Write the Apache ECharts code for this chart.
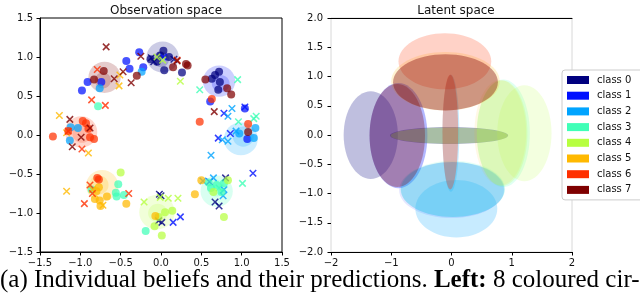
<!DOCTYPE html>
<html><head><meta charset="utf-8">
<script src="https://cdn.jsdelivr.net/npm/echarts@6/dist/echarts.min.js"></script>
<style>html,body{margin:0;padding:0;background:#fff}#c{width:640px;height:299px}</style>
</head><body><div id="c"></div><script>
const classNames = ['class 0','class 1','class 2','class 3','class 4','class 5','class 6','class 7'];
const classColors = ['#00007f','#0010ff','#00a4ff','#40ffb7','#b7ff40','#ffb900','#ff3000','#7f0000'];

// tick values and labels
const obsTickValues = [-1.5,-1.0,-0.5,0.0,0.5,1.0,1.5];
const obsTickLabels = ['\u22121.5','\u22121.0','\u22120.5','0.0','0.5','1.0','1.5'];
const latYTickValues = [-2.0,-1.5,-1.0,-0.5,0.0,0.5,1.0,1.5,2.0];
const latYTickLabels = ['\u22122.0','\u22121.5','\u22121.0','\u22120.5','0.0','0.5','1.0','1.5','2.0'];
const latXTickValues = [-2,-1,0,1,2];
const latXTickLabels = ['\u22122','\u22121','0','1','2'];

// observation space: belief circles [cx, cy, r]
const beliefOuter = [[0.02,1.0,0.2],[0.72,0.69,0.2],[0.99,-0.05,0.21],[0.69,-0.72,0.2],[-0.05,-0.99,0.22],[-0.73,-0.65,0.2],[-0.99,0.04,0.2],[-0.7,0.74,0.2]];
const beliefInner = [[0.0,0.97,0.1],[0.74,0.66,0.11],[1.02,-0.02,0.13],[0.68,-0.68,0.11],[-0.04,-1.0,0.12],[-0.77,-0.64,0.12],[-0.98,0.02,0.12],[-0.72,0.7,0.1]];

// observation space points per class
const obsDots0 = [[0.03,1.08],[-0.01,1.02],[0.04,0.83],[-0.13,0.97],[0.26,0.80],[-0.05,0.94],[0.10,1.0],[0.72,0.81],[0.63,0.72],[0.73,0.68],[0.71,0.58],[0.67,0.77]];
const obsCross0 = [[-0.09,0.94],[0.16,0.97],[-0.02,-0.76],[0.0,-0.78],[0.01,-1.12],[-0.03,-1.1],[0.8,-0.55],[0.67,-0.86],[0.72,-0.91],[-0.12,0.99]];
const obsDots1 = [[-0.27,1.06],[-0.43,0.95],[-0.39,0.85],[-0.22,0.87],[-0.91,0.68],[-0.98,0.57],[-0.74,0.68],[0.61,0.43],[1.04,0.34],[1.07,-0.05]];
const obsCross1 = [[0.78,0.28],[1.04,0.36],[0.71,-0.04],[0.86,0.02],[0.15,-1.12],[0.24,-1.05],[1.14,-0.49],[0.6,-0.6],[0.03,1.0]];
const obsDots2 = [[-0.24,0.81],[-0.76,0.6],[1.17,0.09],[1.15,-0.04],[0.97,0.02],[-1.12,0.1],[-1.03,0.09],[-1.13,-0.07]];
const obsCross2 = [[0.83,0.24],[0.88,0.34],[0.83,-0.08],[0.93,0.05],[0.62,-0.26],[0.52,-0.59],[0.77,-0.78],[0.65,-0.55],[0.78,-0.7],[0.76,-0.06]];
const obsDots3 = [[-0.78,0.37],[-0.53,-0.63],[-0.56,-0.74],[-0.55,-0.79],[-0.46,-0.77],[-0.19,-1.23],[0.59,-0.61],[0.69,-0.64],[0.75,-0.73],[0.62,-0.68],[0.78,-0.62],[-0.86,-0.7]];
const obsCross3 = [[0.95,0.71],[0.48,0.58],[1.15,0.21],[0.96,0.17],[1.01,-0.62],[1.18,0.24],[0.72,-0.68]];
const obsDots4 = [[-0.5,-0.48],[-0.08,-1.17],[0.01,-1.29],[0.05,-0.99],[0.14,-0.97],[-0.03,-1.05],[0.65,-0.73],[0.83,-0.58],[0.78,-1.05]];
const obsCross4 = [[-0.05,1.0],[0.02,0.96],[0.24,0.69],[-0.21,-0.86],[0.09,-0.81],[0.21,-0.81],[-0.01,-0.8]];
const obsDots5 = [[-0.77,-0.67],[-0.82,-0.82],[-0.76,-0.84],[-0.75,-0.91],[-0.67,-0.79],[-0.43,-0.88],[-0.07,-1.04],[0.5,-0.58],[0.42,-0.76],[-0.8,-0.72]];
const obsCross5 = [[-0.52,0.63],[-0.51,0.77],[-1.26,0.25],[-1.17,0.03],[-0.9,-0.23],[-1.17,-0.72],[-0.72,-0.9],[-0.85,-0.7]];
const obsDots6 = [[-1.34,-0.02],[-0.97,0.18],[-0.88,-0.03],[-0.83,-0.05],[-0.9,0.08],[-1.15,0.05],[-0.79,-0.55],[-0.77,-0.57],[0.63,0.46],[0.48,0.17],[1.08,0.14],[-0.93,0.15]];
const obsCross6 = [[-0.79,0.84],[-0.86,0.45],[-0.69,0.38],[-0.98,-0.18],[-0.95,-0.88],[-0.88,-0.64],[-0.85,-0.75],[-0.4,-0.75],[-1.15,0.05],[0.2,0.96]];
const obsDots7 = [[-0.30,0.76],[-0.71,0.82],[-0.83,0.71],[0.15,0.87],[0.33,0.89],[0.31,0.91],[0.55,0.71],[0.87,0.52],[0.82,0.6],[1.08,0.04]];
const obsCross7 = [[-0.68,1.13],[-0.25,1.01],[-0.37,0.67],[-0.47,0.81],[-0.58,0.72],[0.2,0.95],[0.66,0.3],[-1.13,0.2],[-0.88,0.09],[-0.99,-0.03],[-1.1,-0.15]];

// latent space ellipses per class: [cx, cy, rx, ry, alpha]
const latent0 = [[-1.34,0.0,0.45,0.75,0.25],[-0.04,-0.01,0.98,0.145,0.36]];
const latent1 = [[-0.88,-0.01,0.48,0.9,0.3],[0.0,-0.94,0.87,0.48,0.1]];
const latent2 = [[0.08,-1.26,0.68,0.49,0.22],[0.02,-0.93,0.86,0.47,0.28],[-0.01,0.03,0.14,1.0,0.22]];
const latent3 = [[0.86,0.03,0.44,0.92,0.16],[0.02,-0.92,0.87,0.48,0.12]];
const latent4 = [[1.21,0.03,0.45,0.82,0.17],[0.84,0.03,0.42,0.9,0.2],[-0.04,-0.01,0.97,0.14,0.3]];
const latent5 = [[-0.1,0.92,0.9,0.5,0.18],[0.81,0.04,0.43,0.9,0.1]];
const latent6 = [[-0.11,1.26,0.77,0.48,0.22],[-0.02,0.05,0.13,0.98,0.3]];
const latent7 = [[-0.1,0.9,0.87,0.48,0.38],[-0.9,-0.01,0.46,0.88,0.3]];

const obsDots = [obsDots0,obsDots1,obsDots2,obsDots3,obsDots4,obsDots5,obsDots6,obsDots7];
const obsCross = [obsCross0,obsCross1,obsCross2,obsCross3,obsCross4,obsCross5,obsCross6,obsCross7];
const latent = [latent0,latent1,latent2,latent3,latent4,latent5,latent6,latent7];

// circle in data units: [cx, cy, r]
function circleItem(alpha) {
  return function(params, api) {
    const c = api.coord([api.value(0), api.value(1)]);
    const s = api.size([api.value(2), api.value(2)]);
    return {type:'ellipse', shape:{cx:c[0], cy:c[1], rx:s[0], ry:s[1]}, style:{fill: api.visual('color'), opacity: alpha}};
  };
}
// ellipse in data units: [cx, cy, rx, ry, alpha]
function ellipseItem(params, api) {
  const c = api.coord([api.value(0), api.value(1)]);
  const s = api.size([api.value(2), api.value(3)]);
  return {type:'ellipse', shape:{cx:c[0], cy:c[1], rx:s[0], ry:s[1]}, style:{fill: api.visual('color'), opacity: api.value(4)}};
}

const FONT = 'DejaVu Sans';
const labelFmt = (vals, labs) => (v) => { const i = vals.findIndex(t => Math.abs(t - v) < 1e-9); return i >= 0 ? labs[i] : ''; };

const series = [];
for (let k = 0; k < 8; k++) {
  series.push({type:'custom', name:'belief '+k, xAxisIndex:0, yAxisIndex:0, itemStyle:{color:classColors[k]}, renderItem: circleItem(0.2), data: [beliefOuter[k]], z:1, silent:true});
  series.push({type:'custom', name:'beliefin '+k, xAxisIndex:0, yAxisIndex:0, itemStyle:{color:classColors[k]}, renderItem: circleItem(0.2), data: [beliefInner[k]], z:1, silent:true});
}
for (let k = 0; k < 8; k++) {
  series.push({type:'scatter', name:'pred '+k, xAxisIndex:0, yAxisIndex:0, symbol:'path://M0,0L10,10M10,0L0,10', symbolSize:6.5,
    itemStyle:{color:'rgba(0,0,0,0)', borderColor:classColors[k], borderWidth:1.5, opacity:0.8}, data: obsCross[k], z:3});
  series.push({type:'scatter', name:'obs '+k, xAxisIndex:0, yAxisIndex:0, symbol:'circle', symbolSize:8,
    itemStyle:{color:classColors[k], opacity:0.72}, data: obsDots[k], z:3});
}
for (let k = 0; k < 8; k++) {
  series.push({type:'custom', name:classNames[k], xAxisIndex:1, yAxisIndex:1, itemStyle:{color:classColors[k]}, renderItem: ellipseItem, data: latent[k], z:2});
}

const axisText = {fontFamily:FONT, fontSize:10, color:'#111'};
const option = {
  animation:false,
  backgroundColor:'#fff',
  title:[
    {text:'Observation space', left:161, top:0, textAlign:'center', textStyle:{fontFamily:FONT, fontSize:12, fontWeight:'normal', color:'#111'}},
    {text:'Latent space', left:451, top:0, textAlign:'center', textStyle:{fontFamily:FONT, fontSize:12, fontWeight:'normal', color:'#111'}}
  ],
  grid:[
    {left:40, top:18, width:242, height:234, show:true, borderColor:'#000', borderWidth:1, backgroundColor:'transparent'},
    {left:331, top:18, width:241, height:234, show:true, borderColor:'#d8d8d8', borderWidth:1, backgroundColor:'transparent'}
  ],
  xAxis:[
    {gridIndex:0, type:'value', min:-1.5, max:1.5, interval:0.5, axisLine:{show:true, onZero:false, lineStyle:{color:'#000'}}, axisTick:{show:true, length:3.5, lineStyle:{color:'#000'}}, splitLine:{show:false}, axisLabel:Object.assign({margin:6, formatter:labelFmt(obsTickValues, obsTickLabels)}, axisText)},
    {gridIndex:1, type:'value', min:-2, max:2, interval:1, axisLine:{show:true, onZero:false, lineStyle:{color:'#000'}}, axisTick:{show:true, length:3.5, lineStyle:{color:'#000'}}, splitLine:{show:false}, axisLabel:Object.assign({margin:6, formatter:labelFmt(latXTickValues, latXTickLabels)}, axisText)},
    {gridIndex:1, type:'value', position:'top', min:-2, max:2, interval:1, axisLine:{show:true, onZero:false, lineStyle:{color:'#000'}}, axisTick:{show:false}, splitLine:{show:false}, axisLabel:{show:false}}
  ],
  yAxis:[
    {gridIndex:0, type:'value', min:-1.5, max:1.5, interval:0.5, axisLine:{show:true, onZero:false, lineStyle:{color:'#000'}}, axisTick:{show:true, length:3.5, lineStyle:{color:'#000'}}, splitLine:{show:false}, axisLabel:Object.assign({margin:7, formatter:labelFmt(obsTickValues, obsTickLabels)}, axisText)},
    {gridIndex:1, type:'value', min:-2, max:2, interval:0.5, axisLine:{show:false, onZero:false}, axisTick:{show:true, length:3.5, lineStyle:{color:'#000'}}, splitLine:{show:false}, axisLabel:Object.assign({margin:8, formatter:labelFmt(latYTickValues, latYTickLabels)}, axisText)}
  ],
  legend:{
    data: classNames, orient:'vertical', left:562, top:70, icon:'rect', itemWidth:22, itemHeight:8, itemGap:3.7,
    padding:[4,40,4,5], borderColor:'#cccccc', borderWidth:1, borderRadius:3, backgroundColor:'#fff', selectedMode:false,
    textStyle:{fontFamily:FONT, fontSize:10, color:'#111', lineHeight:12, padding:[0,0,0,3]}
  },
  graphic:[
    {type:'text', left:0, top:268, style:{text:'(a) Individual beliefs and their predictions. {b|Left:} 8 coloured cir-', font:'25px "Liberation Serif"', fill:'#000',
      rich:{b:{fontFamily:'Liberation Serif', fontSize:25, fontWeight:'bold', fill:'#000'}}}}
  ],
  series: series
};
const chart = echarts.init(document.getElementById('c'), null, {renderer:'canvas'});
chart.setOption(option);
</script></body></html>
